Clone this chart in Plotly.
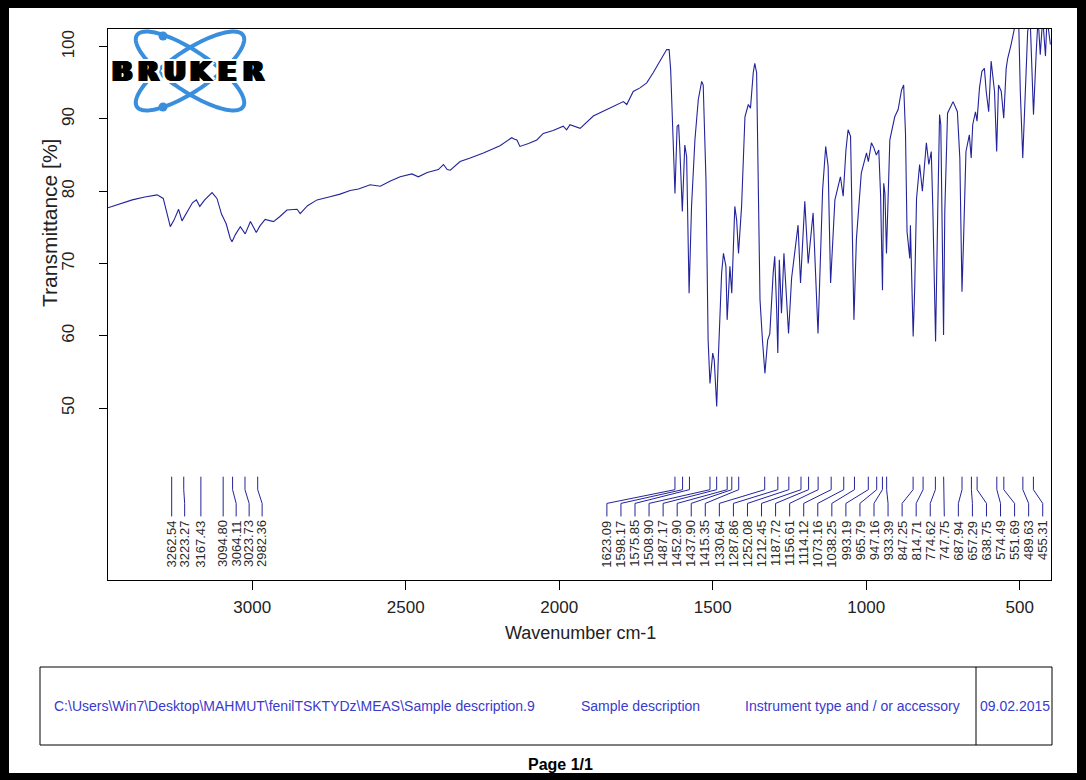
import numpy as np
import plotly.graph_objects as go

# ---- FT-IR spectrum (wavenumber in cm-1, transmittance in %) ----
wavenumber = [
    3470, 3440, 3391, 3350, 3310, 3290, 3275, 3267, 3255, 3240, 3229, 3215, 3195, 3182,
    3171, 3155, 3131, 3115, 3100, 3094, 3085, 3072, 3066, 3055, 3039, 3023, 3006, 2987,
    2975, 2958, 2931, 2910, 2887, 2854, 2844, 2820, 2789, 2750, 2714, 2681, 2654, 2616,
    2583, 2550, 2518, 2480, 2459, 2430, 2394, 2377, 2365, 2355, 2323, 2290, 2247, 2193,
    2155, 2145, 2138, 2128, 2100, 2073, 2052, 2020, 1987, 1976, 1965, 1932, 1910, 1889,
    1845, 1791, 1780, 1759, 1737, 1715, 1694, 1667, 1656, 1650, 1642, 1637, 1629, 1623,
    1616, 1611, 1607, 1599, 1591, 1585, 1577, 1569, 1558, 1547, 1536, 1531, 1522, 1515,
    1509, 1500, 1495, 1487, 1482, 1471, 1465, 1457, 1453, 1444, 1438, 1433, 1428, 1422,
    1416, 1406, 1395, 1384, 1377, 1368, 1363, 1357, 1352, 1346, 1338, 1330, 1321, 1314,
    1303, 1298, 1292, 1288, 1283, 1276, 1268, 1260, 1253, 1243, 1232, 1222, 1214, 1200,
    1189, 1173, 1157, 1142, 1132, 1124, 1116, 1102, 1084, 1075, 1066, 1059, 1051, 1045,
    1040, 1032, 1016, 999, 993, 983, 975, 967, 959, 953, 947, 943, 939, 934,
    923, 907, 896, 885, 878, 872, 867, 858, 856, 847, 842, 836, 826, 817,
    804, 796, 788, 783, 774, 767, 761, 757, 753, 748, 744, 735, 717, 703,
    695, 688, 683, 675, 664, 658, 653, 644, 639, 631, 623, 615, 609, 601,
    593, 582, 575, 569, 560, 552, 544, 539, 528, 517, 510, 503, 498, 490,
    481, 474, 466, 457, 455, 446, 440, 433, 425, 416, 411, 400,
]
transmittance = [
    77.7, 78.1, 78.8, 79.2, 79.5, 79.0, 76.5, 75.1, 76.0, 77.5, 75.9, 77.0, 78.4, 78.8,
    77.9, 78.8, 79.8, 79.0, 76.8, 76.3, 75.5, 73.5, 73.0, 74.0, 75.1, 74.1, 75.8, 74.3,
    75.2, 76.1, 75.8, 76.5, 77.4, 77.5, 76.9, 78.0, 78.8, 79.2, 79.6, 80.1, 80.3, 80.9,
    80.7, 81.4, 82.0, 82.4, 82.0, 82.6, 83.0, 83.7, 83.0, 82.9, 84.1, 84.6, 85.3, 86.3,
    87.4, 87.2, 87.1, 86.2, 86.6, 87.1, 88.0, 88.4, 89.0, 88.5, 89.2, 88.7, 89.6, 90.4,
    91.3, 92.4, 92.0, 93.8, 94.3, 95.0, 96.4, 98.4, 99.3, 99.6, 99.6, 96.8, 87.1, 79.7,
    89.0, 89.2, 85.7, 77.2, 86.4, 84.8, 65.9, 77.9, 87.1, 92.7, 95.2, 94.7, 81.6, 59.4,
    53.4, 57.6, 56.6, 50.2, 56.6, 68.7, 71.4, 69.6, 62.2, 69.6, 65.9, 71.0, 77.9, 76.0,
    71.4, 77.9, 90.3, 92.0, 91.5, 96.4, 97.7, 96.4, 79.7, 65.0, 59.4, 54.8, 59.4, 60.3,
    68.7, 71.0, 64.0, 57.6, 70.5, 63.1, 71.4, 65.0, 60.3, 68.0, 72.3, 75.3, 67.3, 78.6,
    70.0, 77.0, 60.3, 80.2, 86.2, 83.4, 67.3, 78.8, 82.0, 79.3, 85.7, 88.5, 87.6, 71.0,
    62.2, 73.3, 82.5, 85.3, 84.1, 86.7, 86.0, 85.0, 85.7, 79.3, 66.3, 81.1, 79.7, 71.4,
    87.1, 90.3, 91.3, 94.0, 94.7, 88.0, 74.4, 70.7, 75.3, 59.9, 66.6, 79.0, 83.7, 80.0,
    86.7, 83.7, 85.5, 77.7, 59.2, 77.2, 90.6, 89.2, 76.3, 60.1, 77.2, 90.8, 92.4, 91.0,
    84.6, 66.1, 73.0, 85.5, 87.8, 84.6, 89.2, 91.0, 89.7, 94.3, 96.6, 97.0, 93.8, 91.0,
    98.0, 93.8, 85.5, 94.7, 93.8, 90.1, 97.0, 98.4, 100.3, 102.4, 104.0, 103.0, 93.8, 84.6,
    96.1, 102.1, 104.0, 93.8, 90.6, 99.4, 104.0, 98.9, 104.0, 98.7, 104.0, 100.3,
]

# picked peak positions, cm-1 (two label groups)
peaks_high = [3262.54, 3223.27, 3167.43, 3094.80, 3064.11, 3023.73, 2982.36]
peaks_low = [
    1623.09, 1598.17, 1575.85, 1508.90, 1487.17, 1452.90, 1437.90, 1415.35,
    1330.64, 1287.86, 1252.08, 1212.45, 1187.72, 1156.61, 1114.12, 1073.16,
    1038.25, 993.19, 965.79, 947.16, 933.39, 847.25, 814.71, 774.62,
    747.75, 687.94, 657.29, 638.75, 574.49, 551.69, 489.63, 455.31,
]

x_ticks = [3000, 2500, 2000, 1500, 1000, 500]
y_ticks = [50, 60, 70, 80, 90, 100]

info_fields = [
    "C:\\Users\\Win7\\Desktop\\MAHMUT\\fenilTSKTYDz\\MEAS\\Sample description.9",
    "Sample description",
    "Instrument type and / or accessory",
    "09.02.2015",
]

# ---- layout geometry (pixels of the 1086x780 page) ----
W, H = 1086, 780
L, T, R, B = 108, 29, 1051, 580
X_RANGE = [3470, 398]
Y_RANGE = [26.2, 102.45]
LINE = "#23239b"
FONT = "Liberation Sans, Arial, sans-serif"
TEXT = "#222"


def px(x):
    return (x - L) / (R - L)


def py(y):
    return (B - y) / (B - T)


def spread(peaks, gap, lo=None):
    """Place labels so neighbours are at least `gap` cm-1 apart."""
    pos = list(peaks)
    for i in range(1, len(pos)):
        pos[i] = min(pos[i], pos[i - 1] - gap)
    if lo is not None and pos[-1] < lo:
        pos[-1] = lo
        for i in range(len(pos) - 2, -1, -1):
            pos[i] = max(pos[i], pos[i + 1] + gap)
    return pos


fig = go.Figure()
fig.add_trace(go.Scatter(x=wavenumber, y=transmittance, mode="lines",
                         line=dict(color=LINE, width=1.1), hoverinfo="skip",
                         showlegend=False))

# peak markers: vertical tick, slanted leader, vertical stub, rotated value
Y_TOP, Y_BEND1, Y_BEND2, Y_END, Y_TEXT = 40.5, 38.7, 36.8, 35.0, 34.6
annotations = []
lx, ly = [], []
for peaks, gap, lo in ((peaks_high, 42.3, None), (peaks_low, 45.8, 425)):
    for p, q in zip(peaks, spread(peaks, gap, lo)):
        lx += [p, p, q, q, None]
        ly += [Y_TOP, Y_BEND1, Y_BEND2, Y_END, None]
        annotations.append(dict(x=q, y=Y_TEXT, xref="x", yref="y", text=f"{p:.2f}",
                                showarrow=False, textangle=-90, xanchor="center",
                                yanchor="top", borderpad=0,
                                font=dict(family=FONT, size=13, color="#2a2a2a")))
fig.add_trace(go.Scatter(x=lx, y=ly, mode="lines", line=dict(color=LINE, width=1),
                         hoverinfo="skip", showlegend=False))

# axis titles
annotations.append(dict(x=px(580), y=py(633), xref="paper", yref="paper",
                        text="Wavenumber cm-1", showarrow=False, xanchor="center",
                        yanchor="middle", font=dict(family=FONT, size=18, color=TEXT)))
annotations.append(dict(x=px(50), y=py(223), xref="paper", yref="paper",
                        text="Transmittance [%]", showarrow=False, textangle=-90,
                        xanchor="center", yanchor="middle",
                        font=dict(family=FONT, size=21, color=TEXT)))

shapes = []
# BRUKER atom logo: two crossed orbits and two electrons
cx, cy, a, b = 190, 71, 64, 20
t = np.linspace(0, 2 * np.pi, 121)
for ang in (34, -34):
    th = np.radians(ang)
    ex = cx + a * np.cos(t) * np.cos(th) - b * np.sin(t) * np.sin(th)
    ey = cy + a * np.cos(t) * np.sin(th) + b * np.sin(t) * np.cos(th)
    path = "M " + " L ".join(f"{px(u):.5f},{py(v):.5f}" for u, v in zip(ex, ey)) + " Z"
    shapes.append(dict(type="path", xref="paper", yref="paper", path=path,
                       line=dict(color="#3a8ede", width=4)))
for ex, ey in ((163, 36), (163, 107)):
    shapes.append(dict(type="circle", xref="paper", yref="paper",
                       x0=px(ex - 4.5), x1=px(ex + 4.5), y0=py(ey + 4.5), y1=py(ey - 4.5),
                       fillcolor="#3a8ede", line=dict(width=0)))
# heavy wide lettering: black side shadows thicken the strokes, white halo outlines them
heavy = [f"{dx}px 0 0 black" for dx in (-2, -1, 1, 2)]
halo = [f"{dx}px {dy}px 0 white" for dx in (-4, -2, 0, 2, 4) for dy in (-2, 0, 2)]
for i, ch in enumerate("BRUKER"):
    annotations.append(dict(x=px(122 + i * 26.3), y=py(72), xref="paper", yref="paper",
                            text=ch, showarrow=False, xanchor="center", yanchor="middle",
                            font=dict(family="DejaVu Sans", size=27, color="black",
                                      weight="bold", shadow=", ".join(heavy + halo))))

# footer table
shapes.append(dict(type="rect", xref="paper", yref="paper", x0=px(40), x1=px(1052),
                   y0=py(745), y1=py(667), line=dict(color="black", width=1)))
shapes.append(dict(type="line", xref="paper", yref="paper", x0=px(976), x1=px(976),
                   y0=py(745), y1=py(667), line=dict(color="black", width=1)))
for txt, xc in zip(info_fields, (294, 640, 852, 1015)):
    annotations.append(dict(x=px(xc), y=py(706), xref="paper", yref="paper", text=txt,
                            showarrow=False, xanchor="center", yanchor="middle",
                            font=dict(family=FONT, size=14, color="#3a3acc")))
annotations.append(dict(x=px(560), y=py(764), xref="paper", yref="paper", text="<b>Page 1/1</b>",
                        showarrow=False, xanchor="center", yanchor="middle",
                        font=dict(family=FONT, size=16, color="black")))

# thick black page border
for x0, x1, y0, y1 in ((0, W, 0, 8), (0, W, 773, H), (0, 9, 0, H), (1077, W, 0, H)):
    shapes.append(dict(type="rect", xref="paper", yref="paper", x0=px(x0), x1=px(x1),
                       y0=py(y1), y1=py(y0), fillcolor="black", line=dict(width=0)))

fig.update_layout(
    width=W, height=H,
    margin=dict(l=L, r=W - R, t=T, b=H - B),
    paper_bgcolor="white", plot_bgcolor="white",
    font=dict(family=FONT, color=TEXT),
    shapes=shapes, annotations=annotations,
    xaxis=dict(range=X_RANGE, tickvals=x_ticks, ticks="outside", ticklen=9,
               tickcolor="black", showgrid=False, zeroline=False, showline=True,
               linecolor="black", linewidth=1, mirror=True, ticklabelstandoff=3,
               tickfont=dict(size=17, color=TEXT)),
    yaxis=dict(range=Y_RANGE, tickvals=y_ticks, ticks="outside", ticklen=8,
               tickcolor="black", showgrid=False, zeroline=False, showline=True,
               linecolor="black", linewidth=1, mirror=True, tickangle=-90,
               ticklabelstandoff=18, tickfont=dict(size=17, color=TEXT)),
)

fig.write_html("out.html")
